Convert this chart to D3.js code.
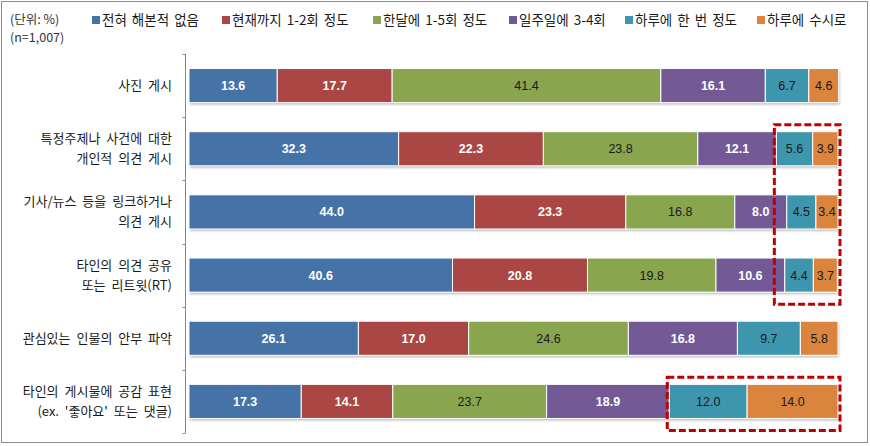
<!DOCTYPE html>
<html>
<head>
<meta charset="utf-8">
<script src="https://cdn.jsdelivr.net/npm/d3@7"></script>
<style>
  body { margin: 0; background: #fff; }
  text { font-family: "Noto Sans CJK KR", "Noto Sans", sans-serif; }
</style>
</head>
<body>
<div id="chart"></div>
<script>
// data
const categories = [
  ["사진 게시"],
  ["특정주제나 사건에 대한", "개인적 의견 게시"],
  ["기사/뉴스 등을 링크하거나", "의견 게시"],
  ["타인의 의견 공유", "또는 리트윗(RT)"],
  ["관심있는 인물의 안부 파악"],
  ["타인의 게시물에 공감 표현", "(ex. '좋아요' 또는 댓글)"]
];
const seriesNames = ["전혀 해본적 없음", "현재까지 1-2회 정도", "한달에 1-5회 정도", "일주일에 3-4회", "하루에 한 번 정도", "하루에 수시로"];
const neverDone  = [13.6, 32.3, 44.0, 40.6, 26.1, 17.3];
const once12     = [17.7, 22.3, 23.3, 20.8, 17.0, 14.1];
const monthly15  = [41.4, 23.8, 16.8, 19.8, 24.6, 23.7];
const weekly34   = [16.1, 12.1, 8.0, 10.6, 16.8, 18.9];
const dailyOnce  = [6.7, 5.6, 4.5, 4.4, 9.7, 12.0];
const dailyOften = [4.6, 3.9, 3.4, 3.7, 5.8, 14.0];
const seriesValues = [neverDone, once12, monthly15, weekly34, dailyOnce, dailyOften];
// highlighted boxes: [first row, last row, first series]
const highlights = [[1, 3, 4], [5, 5, 4]];

const colors = ["#4572a7", "#aa4643", "#89a54e", "#735a96", "#3d96ae", "#db843d"];
const whiteLabel = [true, true, false, true, false, false];

const W = 870, H = 446;
const svg = d3.select("#chart").append("svg")
  .attr("width", W).attr("height", H);

const defs = svg.append("defs");
const f = defs.append("filter").attr("id", "shadow")
  .attr("x", "-5%").attr("y", "-20%").attr("width", "110%").attr("height", "160%");
f.append("feDropShadow").attr("dx", 1).attr("dy", 2).attr("stdDeviation", 1.2)
  .attr("flood-color", "#000").attr("flood-opacity", 0.25);

// outer frame
svg.append("rect")
  .attr("x", 1.5).attr("y", 1.5).attr("width", 866).attr("height", 441)
  .attr("fill", "#fff").attr("stroke", "#8c8c8c").attr("stroke-width", 1);

const x = d3.scaleLinear().domain([0, 100]).range([189, 838]);
const y = d3.scaleBand().domain(d3.range(categories.length))
  .range([54, 433]).paddingInner(0.46).paddingOuter(0.23);

// axis line + ticks between categories
const axisX = 185.5;
svg.append("line").attr("x1", axisX).attr("x2", axisX)
  .attr("y1", 54).attr("y2", 433).attr("stroke", "#868686");
const step = y.step();
svg.selectAll(".tick").data(d3.range(categories.length + 1)).join("line")
  .attr("x1", axisX - 3).attr("x2", axisX)
  .attr("y1", d => Math.round(54 + d * step) + 0.5)
  .attr("y2", d => Math.round(54 + d * step) + 0.5)
  .attr("stroke", "#868686");

// stacked data
const rows = categories.map((c, i) => {
  let acc = 0;
  return seriesValues.map((s, k) => {
    const seg = { row: i, k: k, v: s[i], x0: acc, x1: acc + s[i] };
    acc += s[i];
    return seg;
  });
});

const rowG = svg.selectAll(".row").data(rows).join("g")
  .attr("class", "row")
  .attr("transform", (d, i) => `translate(0,${y(i)})`);

rowG.append("rect")
  .attr("x", d => x(0)).attr("width", d => x(d[d.length - 1].x1) - x(0))
  .attr("height", y.bandwidth()).attr("fill", "#fff")
  .attr("filter", "url(#shadow)");

rowG.selectAll(".seg").data(d => d).join("rect")
  .attr("x", d => x(d.x0))
  .attr("width", d => x(d.x1) - x(d.x0))
  .attr("height", y.bandwidth())
  .attr("fill", d => colors[d.k])
  .attr("stroke", "#fff").attr("stroke-width", 1);

rowG.selectAll(".lbl").data(d => d).join("text")
  .attr("x", d => (x(d.x0) + x(d.x1)) / 2)
  .attr("y", y.bandwidth() / 2)
  .attr("dy", "0.36em")
  .attr("text-anchor", "middle")
  .style("font-family", "'Liberation Sans', 'Noto Sans', sans-serif")
  .style("font-size", "12.5px")
  .style("font-weight", d => whiteLabel[d.k] ? "bold" : "normal")
  .attr("fill", d => whiteLabel[d.k] ? "#fff" : "#1a1a1a")
  .text(d => d.v.toFixed(1));

// category labels
svg.selectAll(".cat").data(categories).join("text")
  .attr("class", "cat")
  .attr("text-anchor", "end")
  .style("font-size", "13px")
  .style("word-spacing", "3px")
  .attr("fill", "#1a1a1a")
  .each(function(lines, i) {
    const cy = y(i) + y.bandwidth() / 2;
    const t = d3.select(this);
    lines.forEach((ln, j) => {
      t.append("tspan").attr("x", 172)
        .attr("y", cy + (j - (lines.length - 1) / 2) * 20)
        .attr("dy", "0.35em")
        .text(ln);
    });
  });

// unit note
svg.append("text").attr("x", 10).attr("y", 20).attr("dy", "0.35em")
  .style("font-size", "12.5px").attr("fill", "#333").text("(단위: %)");
svg.append("text").attr("x", 10).attr("y", 38).attr("dy", "0.35em")
  .style("font-size", "12.5px").attr("fill", "#333").text("(n=1,007)");

// legend
const legendX = [92, 222, 373, 509, 625, 757];
const lg = svg.selectAll(".lg").data(seriesNames).join("g")
  .attr("transform", (d, i) => `translate(${legendX[i]},20)`);
lg.append("rect").attr("x", 0).attr("y", -4).attr("width", 8).attr("height", 8)
  .attr("fill", (d, i) => colors[i]);
lg.append("text").attr("x", 10).attr("dy", "0.36em")
  .style("font-size", "13.5px").style("word-spacing", "2px")
  .attr("fill", "#1a1a1a").text(d => d);

// dashed highlight boxes
const boxLeft = d => x(d3.min(d3.range(d[0], d[1] + 1), r => rows[r][d[2]].x0)) - 2;
svg.selectAll(".hl").data(highlights).join("rect")
  .attr("x", boxLeft)
  .attr("y", d => y(d[0]) - 7)
  .attr("width", d => x(100) + 2 - boxLeft(d))
  .attr("height", d => y(d[1]) + y.bandwidth() + 12 - (y(d[0]) - 7))
  .attr("fill", "none").attr("stroke", "#c00000")
  .attr("stroke-width", 3).attr("stroke-dasharray", "7,3");
</script>
</body>
</html>
